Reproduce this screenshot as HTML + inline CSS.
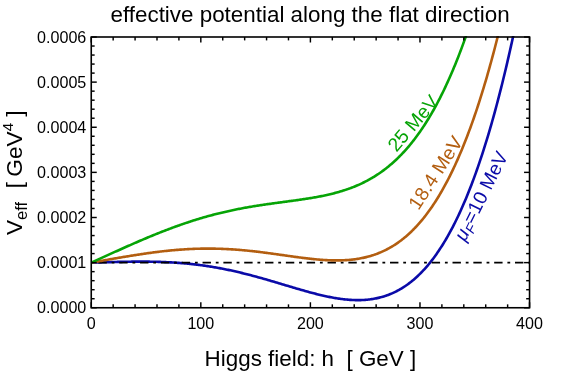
<!DOCTYPE html>
<html><head><meta charset="utf-8"><style>
html,body{margin:0;padding:0;background:#fff;}
svg{display:block;will-change:transform;}
text{font-family:"Liberation Sans",sans-serif;fill:#000;}
</style></head><body>
<svg width="561" height="373" viewBox="0 0 561 373">
<rect width="561" height="373" fill="#fff"/>
<defs><clipPath id="c"><rect x="90.35" y="36.1" width="440.09999999999997" height="272.55"/></clipPath></defs>
<g clip-path="url(#c)" fill="none" stroke-width="2.6" stroke-linejoin="round">
<path d="M91.25 262.62 L92.35 262.59 L93.44 262.56 L94.54 262.53 L95.63 262.50 L96.73 262.47 L97.82 262.44 L98.92 262.41 L100.02 262.38 L101.11 262.35 L102.21 262.32 L103.30 262.28 L104.40 262.25 L105.49 262.22 L106.59 262.19 L107.69 262.17 L108.78 262.14 L109.88 262.11 L110.97 262.08 L112.07 262.05 L113.16 262.02 L114.26 262.00 L115.36 261.97 L116.45 261.94 L117.55 261.92 L118.64 261.90 L119.74 261.87 L120.84 261.85 L121.93 261.83 L123.03 261.81 L124.12 261.78 L125.22 261.77 L126.31 261.75 L127.41 261.73 L128.51 261.71 L129.60 261.70 L130.70 261.68 L131.79 261.67 L132.89 261.66 L133.98 261.65 L135.08 261.64 L136.18 261.63 L137.27 261.63 L138.37 261.62 L139.46 261.62 L140.56 261.62 L141.65 261.62 L142.75 261.62 L143.85 261.62 L144.94 261.63 L146.04 261.64 L147.13 261.64 L148.23 261.66 L149.32 261.67 L150.42 261.68 L151.52 261.70 L152.61 261.72 L153.71 261.74 L154.80 261.76 L155.90 261.79 L157.00 261.82 L158.09 261.85 L159.19 261.88 L160.28 261.91 L161.38 261.95 L162.47 261.99 L163.57 262.03 L164.67 262.08 L165.76 262.13 L166.86 262.18 L167.95 262.23 L169.05 262.28 L170.14 262.34 L171.24 262.40 L172.34 262.47 L173.43 262.53 L174.53 262.60 L175.62 262.67 L176.72 262.75 L177.81 262.83 L178.91 262.91 L180.01 262.99 L181.10 263.08 L182.20 263.17 L183.29 263.26 L184.39 263.35 L185.48 263.45 L186.58 263.56 L187.68 263.66 L188.77 263.77 L189.87 263.88 L190.96 264.00 L192.06 264.12 L193.15 264.24 L194.25 264.36 L195.35 264.49 L196.44 264.62 L197.54 264.76 L198.63 264.89 L199.73 265.03 L200.82 265.18 L201.92 265.33 L203.02 265.48 L204.11 265.63 L205.21 265.79 L206.30 265.95 L207.40 266.12 L208.50 266.29 L209.59 266.46 L210.69 266.63 L211.78 266.81 L212.88 266.99 L213.97 267.18 L215.07 267.37 L216.17 267.56 L217.26 267.75 L218.36 267.95 L219.45 268.15 L220.55 268.36 L221.64 268.57 L222.74 268.78 L223.84 268.99 L224.93 269.21 L226.03 269.43 L227.12 269.66 L228.22 269.89 L229.31 270.12 L230.41 270.35 L231.51 270.59 L232.60 270.83 L233.70 271.07 L234.79 271.32 L235.89 271.57 L236.98 271.82 L238.08 272.08 L239.18 272.33 L240.27 272.60 L241.37 272.86 L242.46 273.13 L243.56 273.40 L244.65 273.67 L245.75 273.94 L246.85 274.22 L247.94 274.50 L249.04 274.78 L250.13 275.07 L251.23 275.36 L252.33 275.65 L253.42 275.94 L254.52 276.24 L255.61 276.53 L256.71 276.83 L257.80 277.13 L258.90 277.44 L260.00 277.74 L261.09 278.05 L262.19 278.36 L263.28 278.67 L264.38 278.98 L265.47 279.29 L266.57 279.61 L267.67 279.92 L268.76 280.24 L269.86 280.56 L270.95 280.88 L272.05 281.21 L273.14 281.53 L274.24 281.85 L275.34 282.18 L276.43 282.50 L277.53 282.83 L278.62 283.16 L279.72 283.48 L280.81 283.81 L281.91 284.14 L283.01 284.47 L284.10 284.80 L285.20 285.13 L286.29 285.45 L287.39 285.78 L288.48 286.11 L289.58 286.44 L290.68 286.77 L291.77 287.09 L292.87 287.42 L293.96 287.74 L295.06 288.07 L296.16 288.39 L297.25 288.71 L298.35 289.03 L299.44 289.35 L300.54 289.67 L301.63 289.98 L302.73 290.30 L303.83 290.61 L304.92 290.92 L306.02 291.23 L307.11 291.53 L308.21 291.83 L309.30 292.13 L310.40 292.43 L311.50 292.72 L312.59 293.01 L313.69 293.30 L314.78 293.59 L315.88 293.87 L316.97 294.14 L318.07 294.42 L319.17 294.68 L320.26 294.95 L321.36 295.21 L322.45 295.46 L323.55 295.71 L324.64 295.96 L325.74 296.20 L326.84 296.44 L327.93 296.67 L329.03 296.89 L330.12 297.11 L331.22 297.32 L332.31 297.53 L333.41 297.73 L334.51 297.92 L335.60 298.11 L336.70 298.29 L337.79 298.46 L338.89 298.63 L339.99 298.78 L341.08 298.93 L342.18 299.08 L343.27 299.21 L344.37 299.34 L345.46 299.45 L346.56 299.56 L347.66 299.66 L348.75 299.75 L349.85 299.83 L350.94 299.91 L352.04 299.97 L353.13 300.02 L354.23 300.06 L355.33 300.09 L356.42 300.11 L357.52 300.12 L358.61 300.12 L359.71 300.11 L360.80 300.08 L361.90 300.04 L363.00 299.99 L364.09 299.93 L365.19 299.86 L366.28 299.77 L367.38 299.67 L368.47 299.56 L369.57 299.43 L370.67 299.29 L371.76 299.13 L372.86 298.96 L373.95 298.78 L375.05 298.58 L376.14 298.36 L377.24 298.13 L378.34 297.88 L379.43 297.62 L380.53 297.34 L381.62 297.05 L382.72 296.73 L383.82 296.40 L384.91 296.06 L386.01 295.69 L387.10 295.31 L388.20 294.91 L389.29 294.49 L390.39 294.05 L391.49 293.59 L392.58 293.11 L393.68 292.61 L394.77 292.10 L395.87 291.56 L396.96 291.00 L398.06 290.42 L399.16 289.81 L400.25 289.19 L401.35 288.54 L402.44 287.88 L403.54 287.19 L404.63 286.47 L405.73 285.73 L406.83 284.97 L407.92 284.19 L409.02 283.38 L410.11 282.54 L411.21 281.68 L412.30 280.80 L413.40 279.89 L414.50 278.95 L415.59 277.99 L416.69 277.00 L417.78 275.98 L418.88 274.93 L419.98 273.86 L421.07 272.76 L422.17 271.63 L423.26 270.47 L424.36 269.28 L425.45 268.06 L426.55 266.81 L427.65 265.53 L428.74 264.22 L429.84 262.88 L430.93 261.51 L432.03 260.10 L433.12 258.67 L434.22 257.20 L435.32 255.69 L436.41 254.16 L437.51 252.58 L438.60 250.98 L439.70 249.34 L440.79 247.66 L441.89 245.95 L442.99 244.20 L444.08 242.42 L445.18 240.60 L446.27 238.74 L447.37 236.84 L448.46 234.91 L449.56 232.93 L450.66 230.92 L451.75 228.87 L452.85 226.78 L453.94 224.64 L455.04 222.47 L456.13 220.26 L457.23 218.00 L458.33 215.70 L459.42 213.36 L460.52 210.98 L461.61 208.55 L462.71 206.08 L463.80 203.56 L464.90 201.00 L466.00 198.40 L467.09 195.75 L468.19 193.05 L469.28 190.30 L470.38 187.51 L471.48 184.67 L472.57 181.78 L473.67 178.84 L474.76 175.86 L475.86 172.82 L476.95 169.74 L478.05 166.60 L479.15 163.41 L480.24 160.17 L481.34 156.88 L482.43 153.54 L483.53 150.14 L484.62 146.69 L485.72 143.18 L486.82 139.62 L487.91 136.01 L489.01 132.33 L490.10 128.61 L491.20 124.82 L492.29 120.98 L493.39 117.08 L494.49 113.12 L495.58 109.11 L496.68 105.03 L497.77 100.89 L498.87 96.70 L499.96 92.44 L501.06 88.12 L502.16 83.74 L503.25 79.29 L504.35 74.78 L505.44 70.21 L506.54 65.58 L507.63 60.87 L508.73 56.11 L509.83 51.27 L510.92 46.37 L512.02 41.41 L513.11 36.37 L514.21 31.27 L515.31 26.09 L516.40 20.85 L517.50 15.54 L518.59 10.16 L519.69 4.70 L520.78 -0.83 L521.88 -6.43 L522.98 -12.10 L524.07 -17.84 L525.17 -23.67 L526.26 -29.56 L527.36 -35.53 L528.45 -41.58 L529.55 -47.71" stroke="#0a0aa8"/>
<line x1="91.25" y1="262.62" x2="529.55" y2="262.62" stroke="#000" stroke-width="1.7" stroke-dasharray="2.8 4.8 8.4 4.83" stroke-dashoffset="0.45"/>
<path d="M91.25 262.62 L92.35 262.43 L93.44 262.24 L94.54 262.05 L95.63 261.85 L96.73 261.66 L97.82 261.47 L98.92 261.27 L100.02 261.08 L101.11 260.89 L102.21 260.69 L103.30 260.50 L104.40 260.31 L105.49 260.11 L106.59 259.92 L107.69 259.73 L108.78 259.54 L109.88 259.34 L110.97 259.15 L112.07 258.96 L113.16 258.77 L114.26 258.58 L115.36 258.39 L116.45 258.20 L117.55 258.01 L118.64 257.83 L119.74 257.64 L120.84 257.45 L121.93 257.27 L123.03 257.08 L124.12 256.90 L125.22 256.71 L126.31 256.53 L127.41 256.35 L128.51 256.17 L129.60 255.99 L130.70 255.81 L131.79 255.63 L132.89 255.46 L133.98 255.28 L135.08 255.11 L136.18 254.94 L137.27 254.77 L138.37 254.60 L139.46 254.43 L140.56 254.26 L141.65 254.10 L142.75 253.94 L143.85 253.77 L144.94 253.61 L146.04 253.46 L147.13 253.30 L148.23 253.15 L149.32 252.99 L150.42 252.84 L151.52 252.70 L152.61 252.55 L153.71 252.40 L154.80 252.26 L155.90 252.12 L157.00 251.98 L158.09 251.85 L159.19 251.71 L160.28 251.58 L161.38 251.45 L162.47 251.33 L163.57 251.20 L164.67 251.08 L165.76 250.96 L166.86 250.85 L167.95 250.73 L169.05 250.62 L170.14 250.51 L171.24 250.41 L172.34 250.30 L173.43 250.20 L174.53 250.11 L175.62 250.01 L176.72 249.92 L177.81 249.83 L178.91 249.74 L180.01 249.66 L181.10 249.58 L182.20 249.50 L183.29 249.43 L184.39 249.36 L185.48 249.29 L186.58 249.22 L187.68 249.16 L188.77 249.10 L189.87 249.05 L190.96 248.99 L192.06 248.94 L193.15 248.90 L194.25 248.85 L195.35 248.81 L196.44 248.78 L197.54 248.74 L198.63 248.71 L199.73 248.69 L200.82 248.66 L201.92 248.64 L203.02 248.63 L204.11 248.61 L205.21 248.60 L206.30 248.59 L207.40 248.59 L208.50 248.59 L209.59 248.59 L210.69 248.60 L211.78 248.61 L212.88 248.62 L213.97 248.64 L215.07 248.66 L216.17 248.68 L217.26 248.70 L218.36 248.73 L219.45 248.77 L220.55 248.80 L221.64 248.84 L222.74 248.88 L223.84 248.93 L224.93 248.98 L226.03 249.03 L227.12 249.08 L228.22 249.14 L229.31 249.20 L230.41 249.27 L231.51 249.33 L232.60 249.41 L233.70 249.48 L234.79 249.55 L235.89 249.63 L236.98 249.72 L238.08 249.80 L239.18 249.89 L240.27 249.98 L241.37 250.07 L242.46 250.17 L243.56 250.27 L244.65 250.37 L245.75 250.47 L246.85 250.58 L247.94 250.69 L249.04 250.80 L250.13 250.92 L251.23 251.03 L252.33 251.15 L253.42 251.27 L254.52 251.40 L255.61 251.52 L256.71 251.65 L257.80 251.78 L258.90 251.91 L260.00 252.04 L261.09 252.18 L262.19 252.32 L263.28 252.45 L264.38 252.59 L265.47 252.74 L266.57 252.88 L267.67 253.02 L268.76 253.17 L269.86 253.32 L270.95 253.47 L272.05 253.62 L273.14 253.77 L274.24 253.92 L275.34 254.07 L276.43 254.22 L277.53 254.38 L278.62 254.53 L279.72 254.69 L280.81 254.84 L281.91 255.00 L283.01 255.15 L284.10 255.31 L285.20 255.46 L286.29 255.62 L287.39 255.77 L288.48 255.93 L289.58 256.08 L290.68 256.24 L291.77 256.39 L292.87 256.54 L293.96 256.69 L295.06 256.84 L296.16 256.99 L297.25 257.14 L298.35 257.29 L299.44 257.43 L300.54 257.57 L301.63 257.72 L302.73 257.86 L303.83 257.99 L304.92 258.13 L306.02 258.26 L307.11 258.39 L308.21 258.52 L309.30 258.64 L310.40 258.77 L311.50 258.89 L312.59 259.00 L313.69 259.11 L314.78 259.22 L315.88 259.33 L316.97 259.43 L318.07 259.53 L319.17 259.62 L320.26 259.71 L321.36 259.80 L322.45 259.88 L323.55 259.95 L324.64 260.02 L325.74 260.09 L326.84 260.15 L327.93 260.20 L329.03 260.25 L330.12 260.29 L331.22 260.33 L332.31 260.36 L333.41 260.38 L334.51 260.40 L335.60 260.41 L336.70 260.42 L337.79 260.41 L338.89 260.40 L339.99 260.38 L341.08 260.36 L342.18 260.32 L343.27 260.28 L344.37 260.23 L345.46 260.17 L346.56 260.10 L347.66 260.03 L348.75 259.94 L349.85 259.84 L350.94 259.74 L352.04 259.62 L353.13 259.50 L354.23 259.36 L355.33 259.22 L356.42 259.06 L357.52 258.89 L358.61 258.71 L359.71 258.52 L360.80 258.32 L361.90 258.10 L363.00 257.88 L364.09 257.64 L365.19 257.38 L366.28 257.12 L367.38 256.84 L368.47 256.55 L369.57 256.24 L370.67 255.92 L371.76 255.59 L372.86 255.24 L373.95 254.88 L375.05 254.50 L376.14 254.11 L377.24 253.70 L378.34 253.27 L379.43 252.83 L380.53 252.37 L381.62 251.90 L382.72 251.41 L383.82 250.90 L384.91 250.37 L386.01 249.83 L387.10 249.27 L388.20 248.69 L389.29 248.09 L390.39 247.47 L391.49 246.83 L392.58 246.17 L393.68 245.50 L394.77 244.80 L395.87 244.08 L396.96 243.34 L398.06 242.58 L399.16 241.80 L400.25 241.00 L401.35 240.17 L402.44 239.32 L403.54 238.45 L404.63 237.56 L405.73 236.64 L406.83 235.70 L407.92 234.73 L409.02 233.74 L410.11 232.73 L411.21 231.69 L412.30 230.62 L413.40 229.53 L414.50 228.41 L415.59 227.27 L416.69 226.10 L417.78 224.90 L418.88 223.67 L419.98 222.42 L421.07 221.13 L422.17 219.82 L423.26 218.48 L424.36 217.11 L425.45 215.71 L426.55 214.28 L427.65 212.82 L428.74 211.33 L429.84 209.81 L430.93 208.25 L432.03 206.67 L433.12 205.05 L434.22 203.40 L435.32 201.71 L436.41 199.99 L437.51 198.24 L438.60 196.45 L439.70 194.63 L440.79 192.77 L441.89 190.88 L442.99 188.95 L444.08 186.98 L445.18 184.98 L446.27 182.93 L447.37 180.86 L448.46 178.74 L449.56 176.58 L450.66 174.39 L451.75 172.15 L452.85 169.88 L453.94 167.56 L455.04 165.21 L456.13 162.81 L457.23 160.37 L458.33 157.89 L459.42 155.36 L460.52 152.80 L461.61 150.19 L462.71 147.53 L463.80 144.83 L464.90 142.09 L466.00 139.30 L467.09 136.46 L468.19 133.58 L469.28 130.65 L470.38 127.68 L471.48 124.65 L472.57 121.58 L473.67 118.46 L474.76 115.29 L475.86 112.07 L476.95 108.80 L478.05 105.48 L479.15 102.11 L480.24 98.68 L481.34 95.21 L482.43 91.68 L483.53 88.09 L484.62 84.46 L485.72 80.77 L486.82 77.02 L487.91 73.22 L489.01 69.37 L490.10 65.45 L491.20 61.48 L492.29 57.46 L493.39 53.37 L494.49 49.23 L495.58 45.03 L496.68 40.77 L497.77 36.44 L498.87 32.06 L499.96 27.62 L501.06 23.11 L502.16 18.55 L503.25 13.91 L504.35 9.22 L505.44 4.46 L506.54 -0.36 L507.63 -5.25 L508.73 -10.20 L509.83 -15.22 L510.92 -20.31 L512.02 -25.46 L513.11 -30.68 L514.21 -35.97 L515.31 -41.33 L516.40 -46.76 L517.50 -52.26 L518.59 -57.83 L519.69 -63.47 L520.78 -69.18 L521.88 -74.97 L522.98 -80.83 L524.07 -86.76 L525.17 -92.77 L526.26 -98.85 L527.36 -105.01 L528.45 -111.25 L529.55 -117.56" stroke="#b35e10"/>
<path d="M91.25 262.62 L92.35 262.13 L93.44 261.63 L94.54 261.13 L95.63 260.63 L96.73 260.13 L97.82 259.64 L98.92 259.14 L100.02 258.64 L101.11 258.14 L102.21 257.64 L103.30 257.14 L104.40 256.65 L105.49 256.15 L106.59 255.65 L107.69 255.15 L108.78 254.66 L109.88 254.16 L110.97 253.67 L112.07 253.17 L113.16 252.67 L114.26 252.18 L115.36 251.68 L116.45 251.19 L117.55 250.70 L118.64 250.21 L119.74 249.71 L120.84 249.22 L121.93 248.73 L123.03 248.24 L124.12 247.75 L125.22 247.27 L126.31 246.78 L127.41 246.29 L128.51 245.81 L129.60 245.32 L130.70 244.84 L131.79 244.36 L132.89 243.88 L133.98 243.40 L135.08 242.92 L136.18 242.45 L137.27 241.97 L138.37 241.50 L139.46 241.03 L140.56 240.55 L141.65 240.09 L142.75 239.62 L143.85 239.15 L144.94 238.69 L146.04 238.23 L147.13 237.77 L148.23 237.31 L149.32 236.85 L150.42 236.40 L151.52 235.95 L152.61 235.49 L153.71 235.05 L154.80 234.60 L155.90 234.16 L157.00 233.71 L158.09 233.27 L159.19 232.84 L160.28 232.40 L161.38 231.97 L162.47 231.54 L163.57 231.11 L164.67 230.69 L165.76 230.26 L166.86 229.84 L167.95 229.42 L169.05 229.01 L170.14 228.60 L171.24 228.19 L172.34 227.78 L173.43 227.38 L174.53 226.97 L175.62 226.58 L176.72 226.18 L177.81 225.79 L178.91 225.40 L180.01 225.01 L181.10 224.63 L182.20 224.25 L183.29 223.87 L184.39 223.49 L185.48 223.12 L186.58 222.75 L187.68 222.39 L188.77 222.02 L189.87 221.67 L190.96 221.31 L192.06 220.96 L193.15 220.61 L194.25 220.26 L195.35 219.92 L196.44 219.58 L197.54 219.24 L198.63 218.91 L199.73 218.58 L200.82 218.25 L201.92 217.93 L203.02 217.61 L204.11 217.29 L205.21 216.97 L206.30 216.66 L207.40 216.36 L208.50 216.05 L209.59 215.75 L210.69 215.46 L211.78 215.16 L212.88 214.87 L213.97 214.59 L215.07 214.30 L216.17 214.02 L217.26 213.74 L218.36 213.47 L219.45 213.20 L220.55 212.93 L221.64 212.67 L222.74 212.41 L223.84 212.15 L224.93 211.90 L226.03 211.65 L227.12 211.40 L228.22 211.15 L229.31 210.91 L230.41 210.67 L231.51 210.44 L232.60 210.20 L233.70 209.98 L234.79 209.75 L235.89 209.53 L236.98 209.30 L238.08 209.09 L239.18 208.87 L240.27 208.66 L241.37 208.45 L242.46 208.25 L243.56 208.04 L244.65 207.84 L245.75 207.64 L246.85 207.45 L247.94 207.25 L249.04 207.06 L250.13 206.87 L251.23 206.69 L252.33 206.51 L253.42 206.32 L254.52 206.14 L255.61 205.97 L256.71 205.79 L257.80 205.62 L258.90 205.45 L260.00 205.28 L261.09 205.11 L262.19 204.95 L263.28 204.78 L264.38 204.62 L265.47 204.46 L266.57 204.30 L267.67 204.15 L268.76 203.99 L269.86 203.84 L270.95 203.68 L272.05 203.53 L273.14 203.38 L274.24 203.23 L275.34 203.08 L276.43 202.93 L277.53 202.78 L278.62 202.63 L279.72 202.49 L280.81 202.34 L281.91 202.19 L283.01 202.05 L284.10 201.90 L285.20 201.75 L286.29 201.61 L287.39 201.46 L288.48 201.31 L289.58 201.16 L290.68 201.02 L291.77 200.87 L292.87 200.72 L293.96 200.57 L295.06 200.42 L296.16 200.26 L297.25 200.11 L298.35 199.96 L299.44 199.80 L300.54 199.64 L301.63 199.48 L302.73 199.32 L303.83 199.15 L304.92 198.99 L306.02 198.82 L307.11 198.65 L308.21 198.47 L309.30 198.30 L310.40 198.12 L311.50 197.94 L312.59 197.75 L313.69 197.56 L314.78 197.37 L315.88 197.17 L316.97 196.97 L318.07 196.77 L319.17 196.56 L320.26 196.35 L321.36 196.13 L322.45 195.91 L323.55 195.69 L324.64 195.46 L325.74 195.22 L326.84 194.98 L327.93 194.73 L329.03 194.48 L330.12 194.22 L331.22 193.96 L332.31 193.69 L333.41 193.41 L334.51 193.13 L335.60 192.84 L336.70 192.54 L337.79 192.23 L338.89 191.92 L339.99 191.60 L341.08 191.28 L342.18 190.94 L343.27 190.60 L344.37 190.25 L345.46 189.89 L346.56 189.52 L347.66 189.14 L348.75 188.75 L349.85 188.36 L350.94 187.95 L352.04 187.53 L353.13 187.11 L354.23 186.67 L355.33 186.22 L356.42 185.77 L357.52 185.30 L358.61 184.82 L359.71 184.33 L360.80 183.82 L361.90 183.31 L363.00 182.78 L364.09 182.24 L365.19 181.69 L366.28 181.12 L367.38 180.54 L368.47 179.95 L369.57 179.34 L370.67 178.72 L371.76 178.09 L372.86 177.44 L373.95 176.78 L375.05 176.10 L376.14 175.40 L377.24 174.70 L378.34 173.97 L379.43 173.23 L380.53 172.47 L381.62 171.70 L382.72 170.90 L383.82 170.10 L384.91 169.27 L386.01 168.42 L387.10 167.56 L388.20 166.68 L389.29 165.78 L390.39 164.86 L391.49 163.93 L392.58 162.97 L393.68 161.99 L394.77 160.99 L395.87 159.97 L396.96 158.94 L398.06 157.88 L399.16 156.79 L400.25 155.69 L401.35 154.56 L402.44 153.42 L403.54 152.25 L404.63 151.05 L405.73 149.83 L406.83 148.59 L407.92 147.33 L409.02 146.04 L410.11 144.72 L411.21 143.38 L412.30 142.02 L413.40 140.63 L414.50 139.21 L415.59 137.76 L416.69 136.29 L417.78 134.80 L418.88 133.27 L419.98 131.72 L421.07 130.13 L422.17 128.52 L423.26 126.88 L424.36 125.21 L425.45 123.51 L426.55 121.79 L427.65 120.03 L428.74 118.23 L429.84 116.41 L430.93 114.56 L432.03 112.67 L433.12 110.75 L434.22 108.80 L435.32 106.82 L436.41 104.80 L437.51 102.75 L438.60 100.66 L439.70 98.54 L440.79 96.38 L441.89 94.19 L442.99 91.96 L444.08 89.69 L445.18 87.39 L446.27 85.05 L447.37 82.67 L448.46 80.25 L449.56 77.80 L450.66 75.30 L451.75 72.77 L452.85 70.20 L453.94 67.58 L455.04 64.93 L456.13 62.23 L457.23 59.49 L458.33 56.71 L459.42 53.89 L460.52 51.02 L461.61 48.11 L462.71 45.16 L463.80 42.16 L464.90 39.12 L466.00 36.03 L467.09 32.89 L468.19 29.71 L469.28 26.49 L470.38 23.21 L471.48 19.89 L472.57 16.52 L473.67 13.10 L474.76 9.63 L475.86 6.11 L476.95 2.54 L478.05 -1.08 L479.15 -4.75 L480.24 -8.47 L481.34 -12.25 L482.43 -16.07 L483.53 -19.96 L484.62 -23.89 L485.72 -27.88 L486.82 -31.92 L487.91 -36.02 L489.01 -40.18 L490.10 -44.39 L491.20 -48.65 L492.29 -52.98 L493.39 -57.36 L494.49 -61.80 L495.58 -66.30 L496.68 -70.87 L497.77 -75.49 L498.87 -80.17 L499.96 -84.91 L501.06 -89.71 L502.16 -94.58 L503.25 -99.51 L504.35 -104.50 L505.44 -109.55 L506.54 -114.68 L507.63 -119.86 L508.73 -125.11 L509.83 -130.43 L510.92 -135.81 L512.02 -141.27 L513.11 -146.79 L514.21 -152.37 L515.31 -158.03 L516.40 -163.76 L517.50 -169.55 L518.59 -175.42 L519.69 -181.36 L520.78 -187.37 L521.88 -193.46 L522.98 -199.62 L524.07 -205.85 L525.17 -212.15 L526.26 -218.53 L527.36 -224.99 L528.45 -231.52 L529.55 -238.13" stroke="#06a406"/>
</g>
<g stroke="#000" stroke-width="1.6" fill="none">
<rect x="91.25" y="37.0" width="438.29999999999995" height="270.75"/>
</g>
<g stroke="#000" stroke-width="1.45"><line x1="91.25" y1="307.75" x2="91.25" y2="302.25"/><line x1="91.25" y1="37.00" x2="91.25" y2="42.50"/><line x1="113.16" y1="307.75" x2="113.16" y2="304.35"/><line x1="113.16" y1="37.00" x2="113.16" y2="40.40"/><line x1="135.08" y1="307.75" x2="135.08" y2="304.35"/><line x1="135.08" y1="37.00" x2="135.08" y2="40.40"/><line x1="157.00" y1="307.75" x2="157.00" y2="304.35"/><line x1="157.00" y1="37.00" x2="157.00" y2="40.40"/><line x1="178.91" y1="307.75" x2="178.91" y2="304.35"/><line x1="178.91" y1="37.00" x2="178.91" y2="40.40"/><line x1="200.82" y1="307.75" x2="200.82" y2="302.25"/><line x1="200.82" y1="37.00" x2="200.82" y2="42.50"/><line x1="222.74" y1="307.75" x2="222.74" y2="304.35"/><line x1="222.74" y1="37.00" x2="222.74" y2="40.40"/><line x1="244.65" y1="307.75" x2="244.65" y2="304.35"/><line x1="244.65" y1="37.00" x2="244.65" y2="40.40"/><line x1="266.57" y1="307.75" x2="266.57" y2="304.35"/><line x1="266.57" y1="37.00" x2="266.57" y2="40.40"/><line x1="288.48" y1="307.75" x2="288.48" y2="304.35"/><line x1="288.48" y1="37.00" x2="288.48" y2="40.40"/><line x1="310.40" y1="307.75" x2="310.40" y2="302.25"/><line x1="310.40" y1="37.00" x2="310.40" y2="42.50"/><line x1="332.31" y1="307.75" x2="332.31" y2="304.35"/><line x1="332.31" y1="37.00" x2="332.31" y2="40.40"/><line x1="354.23" y1="307.75" x2="354.23" y2="304.35"/><line x1="354.23" y1="37.00" x2="354.23" y2="40.40"/><line x1="376.14" y1="307.75" x2="376.14" y2="304.35"/><line x1="376.14" y1="37.00" x2="376.14" y2="40.40"/><line x1="398.06" y1="307.75" x2="398.06" y2="304.35"/><line x1="398.06" y1="37.00" x2="398.06" y2="40.40"/><line x1="419.98" y1="307.75" x2="419.98" y2="302.25"/><line x1="419.98" y1="37.00" x2="419.98" y2="42.50"/><line x1="441.89" y1="307.75" x2="441.89" y2="304.35"/><line x1="441.89" y1="37.00" x2="441.89" y2="40.40"/><line x1="463.80" y1="307.75" x2="463.80" y2="304.35"/><line x1="463.80" y1="37.00" x2="463.80" y2="40.40"/><line x1="485.72" y1="307.75" x2="485.72" y2="304.35"/><line x1="485.72" y1="37.00" x2="485.72" y2="40.40"/><line x1="507.63" y1="307.75" x2="507.63" y2="304.35"/><line x1="507.63" y1="37.00" x2="507.63" y2="40.40"/><line x1="529.55" y1="307.75" x2="529.55" y2="302.25"/><line x1="529.55" y1="37.00" x2="529.55" y2="42.50"/><line x1="91.25" y1="307.75" x2="96.75" y2="307.75"/><line x1="529.55" y1="307.75" x2="524.05" y2="307.75"/><line x1="91.25" y1="298.73" x2="94.65" y2="298.73"/><line x1="529.55" y1="298.73" x2="526.15" y2="298.73"/><line x1="91.25" y1="289.70" x2="94.65" y2="289.70"/><line x1="529.55" y1="289.70" x2="526.15" y2="289.70"/><line x1="91.25" y1="280.68" x2="94.65" y2="280.68"/><line x1="529.55" y1="280.68" x2="526.15" y2="280.68"/><line x1="91.25" y1="271.65" x2="94.65" y2="271.65"/><line x1="529.55" y1="271.65" x2="526.15" y2="271.65"/><line x1="91.25" y1="262.62" x2="96.75" y2="262.62"/><line x1="529.55" y1="262.62" x2="524.05" y2="262.62"/><line x1="91.25" y1="253.60" x2="94.65" y2="253.60"/><line x1="529.55" y1="253.60" x2="526.15" y2="253.60"/><line x1="91.25" y1="244.57" x2="94.65" y2="244.57"/><line x1="529.55" y1="244.57" x2="526.15" y2="244.57"/><line x1="91.25" y1="235.55" x2="94.65" y2="235.55"/><line x1="529.55" y1="235.55" x2="526.15" y2="235.55"/><line x1="91.25" y1="226.52" x2="94.65" y2="226.52"/><line x1="529.55" y1="226.52" x2="526.15" y2="226.52"/><line x1="91.25" y1="217.50" x2="96.75" y2="217.50"/><line x1="529.55" y1="217.50" x2="524.05" y2="217.50"/><line x1="91.25" y1="208.47" x2="94.65" y2="208.47"/><line x1="529.55" y1="208.47" x2="526.15" y2="208.47"/><line x1="91.25" y1="199.45" x2="94.65" y2="199.45"/><line x1="529.55" y1="199.45" x2="526.15" y2="199.45"/><line x1="91.25" y1="190.42" x2="94.65" y2="190.42"/><line x1="529.55" y1="190.42" x2="526.15" y2="190.42"/><line x1="91.25" y1="181.40" x2="94.65" y2="181.40"/><line x1="529.55" y1="181.40" x2="526.15" y2="181.40"/><line x1="91.25" y1="172.37" x2="96.75" y2="172.37"/><line x1="529.55" y1="172.37" x2="524.05" y2="172.37"/><line x1="91.25" y1="163.35" x2="94.65" y2="163.35"/><line x1="529.55" y1="163.35" x2="526.15" y2="163.35"/><line x1="91.25" y1="154.32" x2="94.65" y2="154.32"/><line x1="529.55" y1="154.32" x2="526.15" y2="154.32"/><line x1="91.25" y1="145.30" x2="94.65" y2="145.30"/><line x1="529.55" y1="145.30" x2="526.15" y2="145.30"/><line x1="91.25" y1="136.27" x2="94.65" y2="136.27"/><line x1="529.55" y1="136.27" x2="526.15" y2="136.27"/><line x1="91.25" y1="127.25" x2="96.75" y2="127.25"/><line x1="529.55" y1="127.25" x2="524.05" y2="127.25"/><line x1="91.25" y1="118.22" x2="94.65" y2="118.22"/><line x1="529.55" y1="118.22" x2="526.15" y2="118.22"/><line x1="91.25" y1="109.20" x2="94.65" y2="109.20"/><line x1="529.55" y1="109.20" x2="526.15" y2="109.20"/><line x1="91.25" y1="100.17" x2="94.65" y2="100.17"/><line x1="529.55" y1="100.17" x2="526.15" y2="100.17"/><line x1="91.25" y1="91.15" x2="94.65" y2="91.15"/><line x1="529.55" y1="91.15" x2="526.15" y2="91.15"/><line x1="91.25" y1="82.12" x2="96.75" y2="82.12"/><line x1="529.55" y1="82.12" x2="524.05" y2="82.12"/><line x1="91.25" y1="73.10" x2="94.65" y2="73.10"/><line x1="529.55" y1="73.10" x2="526.15" y2="73.10"/><line x1="91.25" y1="64.07" x2="94.65" y2="64.07"/><line x1="529.55" y1="64.07" x2="526.15" y2="64.07"/><line x1="91.25" y1="55.05" x2="94.65" y2="55.05"/><line x1="529.55" y1="55.05" x2="526.15" y2="55.05"/><line x1="91.25" y1="46.02" x2="94.65" y2="46.02"/><line x1="529.55" y1="46.02" x2="526.15" y2="46.02"/><line x1="91.25" y1="37.00" x2="96.75" y2="37.00"/><line x1="529.55" y1="37.00" x2="524.05" y2="37.00"/></g>
<g font-size="16.1"><text x="91.25" y="328.9" text-anchor="middle">0</text><text x="200.82" y="328.9" text-anchor="middle">100</text><text x="310.40" y="328.9" text-anchor="middle">200</text><text x="419.98" y="328.9" text-anchor="middle">300</text><text x="529.55" y="328.9" text-anchor="middle">400</text><text x="86.3" y="313.45" text-anchor="end">0.0000</text><text x="86.3" y="268.32" text-anchor="end">0.0001</text><text x="86.3" y="223.20" text-anchor="end">0.0002</text><text x="86.3" y="178.07" text-anchor="end">0.0003</text><text x="86.3" y="132.95" text-anchor="end">0.0004</text><text x="86.3" y="87.83" text-anchor="end">0.0005</text><text x="86.3" y="42.70" text-anchor="end">0.0006</text></g>
<text x="310.1" y="22" font-size="22.4" text-anchor="middle">effective potential along the flat direction</text>
<text x="310.4" y="365.5" font-size="22.4" text-anchor="middle" xml:space="preserve">Higgs field: h  [ GeV ]</text>
<text transform="translate(22.0,172.7) rotate(-90)" font-size="22.7" text-anchor="middle" xml:space="preserve">V<tspan font-size="16.5" dy="4.5">eff</tspan><tspan dy="-4.5" dx="1">  [</tspan><tspan dx="-1"> GeV</tspan><tspan font-size="15" dy="-9.5">4</tspan><tspan dy="9.5"> ]</tspan></text>
<text transform="translate(396.4,152.8) rotate(-49.5)" font-size="19.3" style="fill:#06a406">25 MeV</text>
<text transform="translate(418.6,211) rotate(-57)" font-size="19.3" style="fill:#b35e10">18.4 MeV</text>
<text transform="translate(465.3,242.3) rotate(-63.5)" font-size="19.3" style="fill:#0a0aa8"><tspan font-style="italic">μ</tspan><tspan font-style="italic" font-size="14" dy="3.5" dx="0">F</tspan><tspan dy="-3.5" dx="0">=10 MeV</tspan></text>
</svg>
</body></html>
